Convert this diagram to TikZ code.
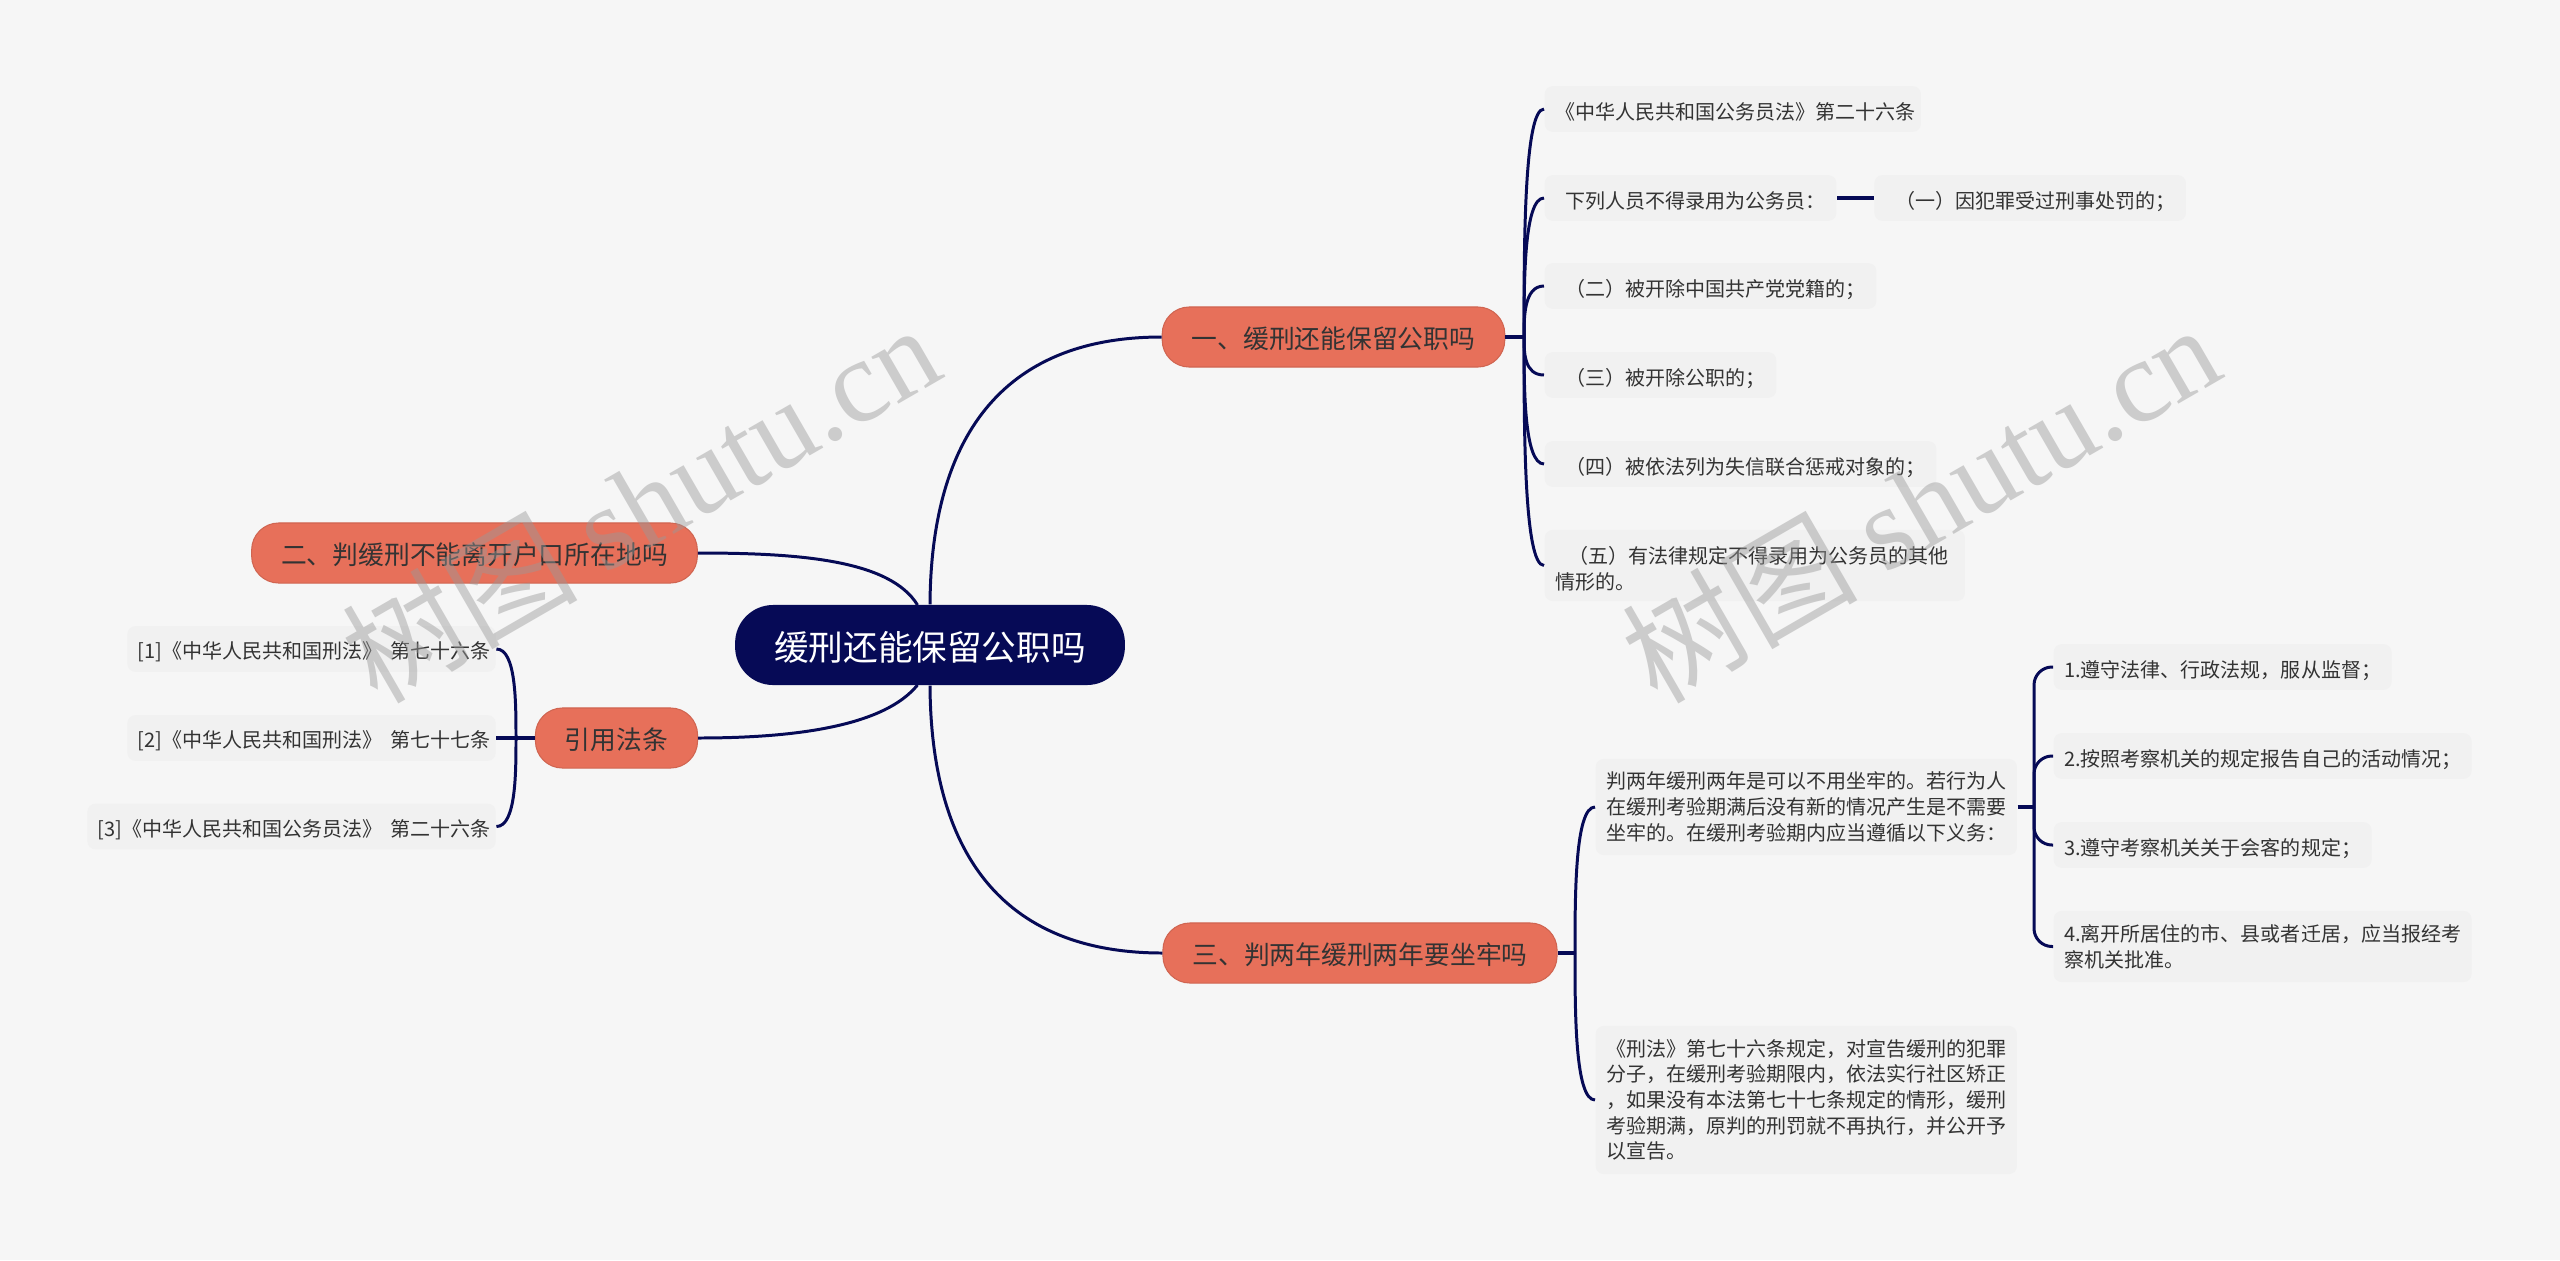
\documentclass[tikz,border=0pt]{standalone}
\usepackage{fontspec}
\setmainfont{Noto Sans CJK SC}
\newfontfamily\markfont{Liberation Serif}
\definecolor{pagegray}{HTML}{F6F6F6}
\definecolor{leafgray}{HTML}{F1F1F1}
\definecolor{rootblue}{HTML}{060A56}
\definecolor{branchred}{HTML}{E7705A}
\definecolor{inkgray}{HTML}{333333}
\definecolor{markgray}{HTML}{999999}
\tikzset{
  rootnode/.style={fill=rootblue, text=white, rounded corners=0.38cm, inner xsep=0.39cm, inner ysep=0pt, minimum height=0.8cm, font=\fontsize{9.85pt}{11pt}\selectfont, execute at begin node={\rule{0pt}{0.33cm}}},
  branch/.style={fill=branchred, draw=branchred!90!black, line width=0.3pt, text=inkgray, rounded corners=0.27cm, inner xsep=0.295cm, inner ysep=0pt, minimum height=0.6cm, font=\fontsize{7.33pt}{9pt}\selectfont, execute at begin node={\rule{0pt}{0.25cm}}},
  leaf/.style={fill=leafgray, text=inkgray, rounded corners=0.08cm, anchor=west, align=left, inner xsep=0.105cm, inner ysep=0pt, minimum height=0.456cm, font=\fontsize{5.69pt}{7.3pt}\selectfont, execute at begin node={\rule{0pt}{0.232cm}}},
  link/.style={draw=rootblue, line width=0.85pt},
  stub/.style={link, line width=1.1pt},
  watermark/.style={text=markgray, text opacity=0.45, rotate=30, font=\fontsize{33.5pt}{40pt}\selectfont}
}
\begin{document}
\begin{tikzpicture}[x=0.01cm, y=-0.01cm]
\path[use as bounding box, fill=pagegray] (0, 0) rectangle (2560, 1260);
\node[rootnode] (root) at (930, 645) {缓刑还能保留公职吗};
\node[branch] (keepjob) at (1333.5, 337) {一、缓刑还能保留公职吗};
\node[branch] (leavehome) at (474.5, 553) {二、判缓刑不能离开户口所在地吗};
\node[branch] (citelaw) at (616.5, 738) {引用法条};
\node[branch] (twoyears) at (1360, 953) {三、判两年缓刑两年要坐牢吗};
\node[leaf] (article) at (1544, 109) {《中华人民共和国公务员法》第二十六条\kern-0.05cm};
\node[leaf] (barred) at (1544, 198) {\hspace*{0.105cm}下列人员不得录用为公务员：};
\node[leaf] (itemone) at (1873.6, 198) {\hspace*{0.105cm}（一）因犯罪受过刑事处罚的；};
\node[leaf] (itemtwo) at (1544, 286) {\hspace*{0.105cm}（二）被开除中国共产党党籍的；};
\node[leaf] (itemthree) at (1544, 375) {\hspace*{0.105cm}（三）被开除公职的；};
\node[leaf] (itemfour) at (1544, 464) {\hspace*{0.105cm}（四）被依法列为失信联合惩戒对象的；};
\node[leaf, text width=3.99cm, minimum height=0.71cm] (itemfive) at (1544, 565.5) {\hspace*{0.13cm}（五）有法律规定不得录用为公务员的其他\\情形的。};
\node[leaf] (citeone) at (126.7, 649) {[1]《中华人民共和国刑法》\hspace{0.075cm}第七十六条\kern-0.05cm};
\node[leaf] (citetwo) at (126.7, 738) {[2]《中华人民共和国刑法》\hspace{0.075cm}第七十七条\kern-0.05cm};
\node[leaf] (citethree) at (86.7, 826.5) {[3]《中华人民共和国公务员法》\hspace{0.075cm}第二十六条\kern-0.05cm};
\node[leaf, minimum height=0.96cm] (noneed) at (1595, 807) {判两年缓刑两年是可以不用坐牢的。若行为人\\在缓刑考验期满后没有新的情况产生是不需要\\坐牢的。在缓刑考验期内应当遵循以下义务：};
\node[leaf, minimum height=1.48cm] (statute) at (1595, 1100) {《刑法》第七十六条规定，对宣告缓刑的犯罪\\分子，在缓刑考验期限内，依法实行社区矫正\\，如果没有本法第七十七条规定的情形，缓刑\\考验期满，原判的刑罚就不再执行，并公开予\\以宣告。};
\node[leaf] (dutyone) at (2053, 667) {1.遵守法律、行政法规，服从监督；};
\node[leaf] (dutytwo) at (2053, 756) {2.按照考察机关的规定报告自己的活动情况；};
\node[leaf] (dutythree) at (2053, 845) {3.遵守考察机关关于会客的规定；};
\node[leaf, minimum height=0.71cm] (dutyfour) at (2053, 946.5) {4.离开所居住的市、县或者迁居，应当报经考\\察机关批准。};
\coordinate (hubone) at (1524, 337);
\coordinate (hubcite) at (516, 738);
\coordinate (hubthree) at (1575, 953);
\coordinate (hubduty) at (2034, 807);
\coordinate (rootleft) at (917.5, 605);
\coordinate (rootlow) at (917.5, 685);
\draw[link] (root.north) .. controls (931, 440) and (1000, 337) .. (keepjob.west);
\draw[link] (root.south) .. controls (931, 850) and (1000, 953) .. (twoyears.west);
\draw[link] (leavehome.east) .. controls (800, 553) and (890, 560) .. (rootleft);
\draw[link] (citelaw.east) .. controls (800, 738) and (885, 725) .. (rootlow);
\draw[stub] (keepjob.east) -- (hubone);
\draw[link] (hubone) .. controls +(0, -91) and (hubone |- article.west) .. (article.west);
\draw[link] (hubone) .. controls +(0, -56) and (hubone |- barred.west) .. (barred.west);
\draw[link] (hubone) .. controls +(0, -20) and (hubone |- itemtwo.west) .. (itemtwo.west);
\draw[link] (hubone) .. controls +(0, 15) and (hubone |- itemthree.west) .. (itemthree.west);
\draw[link] (hubone) .. controls +(0, 51) and (hubone |- itemfour.west) .. (itemfour.west);
\draw[link] (hubone) .. controls +(0, 91) and (hubone |- itemfive.west) .. (itemfive.west);
\draw[stub] (barred.east) -- (itemone.west);
\draw[stub] (citelaw.west) -- (citetwo.east);
\draw[link] (hubcite) .. controls +(0, -36) and (hubcite |- citeone.east) .. (citeone.east);
\draw[link] (hubcite) .. controls +(0, 35) and (hubcite |- citethree.east) .. (citethree.east);
\draw[stub] (twoyears.east) -- (hubthree);
\draw[link] (hubthree) .. controls +(0, -58) and (hubthree |- noneed.west) .. (noneed.west);
\draw[link] (hubthree) .. controls +(0, 59) and (hubthree |- statute.west) .. (statute.west);
\draw[stub] (noneed.east) -- (hubduty);
\draw[link, rounded corners=0.18cm] (hubduty) |- (dutyone.west);
\draw[link, rounded corners=0.18cm] (hubduty) |- (dutytwo.west);
\draw[link, rounded corners=0.18cm] (hubduty) |- (dutythree.west);
\draw[link, rounded corners=0.18cm] (hubduty) |- (dutyfour.west);
\node[watermark] (markleft) at (640, 502) {树图 {\markfont shutu.cn}};
\node[watermark] (markright) at (1920, 502) {树图 {\markfont shutu.cn}};
\end{tikzpicture}
\end{document}
